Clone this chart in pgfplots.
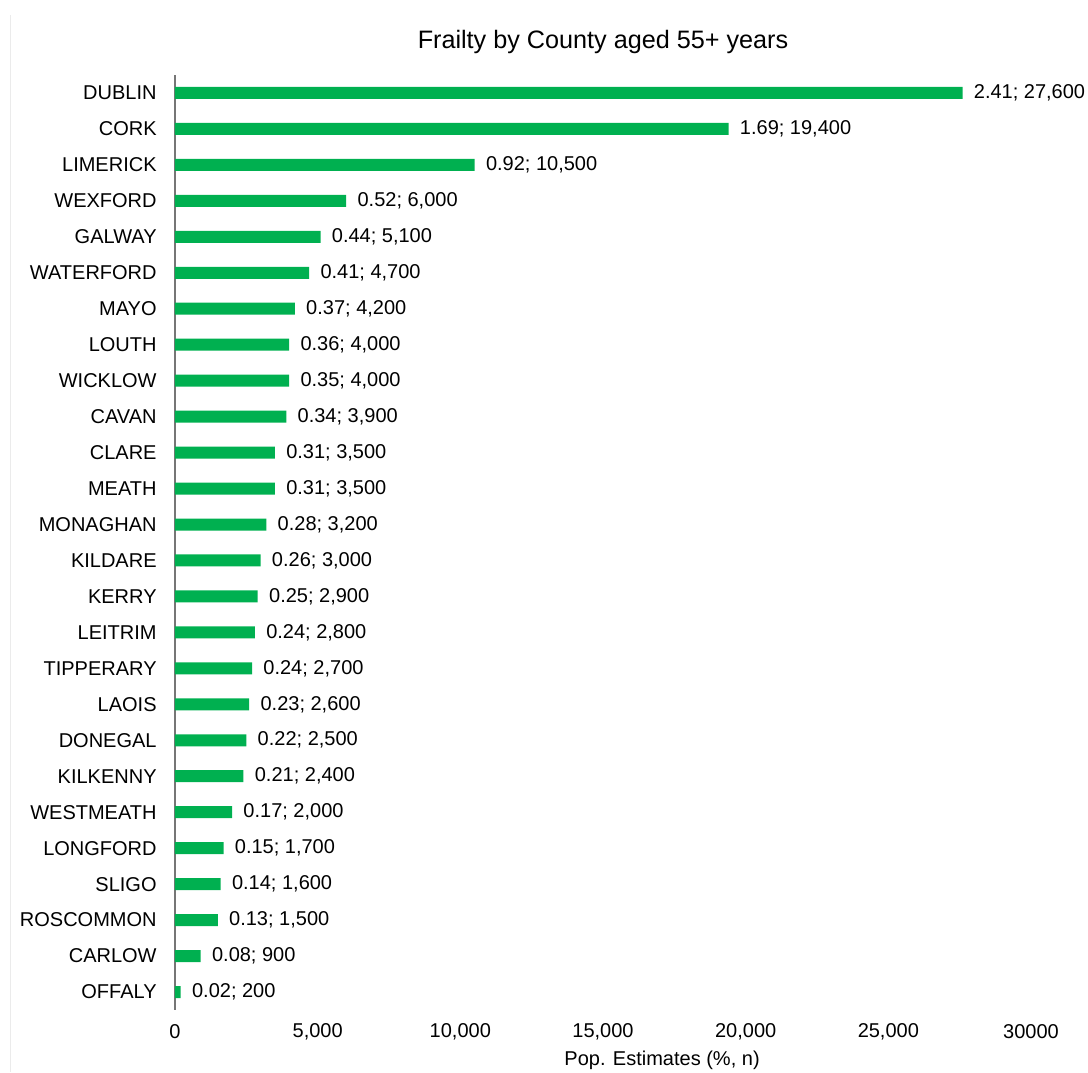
\documentclass[border=0pt]{standalone}
\usepackage{pgfplots}
\pgfplotsset{compat=1.18}
\usepackage{pgfplotstable}
\usepackage{fontspec}
\setmainfont{Liberation Sans}
\definecolor{bargreen}{RGB}{0,176,80}
\definecolor{axisgray}{RGB}{118,118,118}
\pgfplotstableread{
idx n pct
25 27600 2.41
24 19400 1.69
23 10500 0.92
22 6000 0.52
21 5100 0.44
20 4700 0.41
19 4200 0.37
18 4000 0.36
17 4000 0.35
16 3900 0.34
15 3500 0.31
14 3500 0.31
13 3200 0.28
12 3000 0.26
11 2900 0.25
10 2800 0.24
9 2700 0.24
8 2600 0.23
7 2500 0.22
6 2400 0.21
5 2000 0.17
4 1700 0.15
3 1600 0.14
2 1500 0.13
1 900 0.08
0 200 0.02
}\frailty
\begin{document}
\begin{tikzpicture}
\path[use as bounding box] (0,0) rectangle (544pt,536pt);
\draw[black!8, line width=0.5pt] (5pt,0) -- (5pt,528.5pt);
\begin{axis}[
  at={(87.5pt,31pt)}, anchor=south west,
  scale only axis, width=428pt, height=467.5pt,
  xmin=0, xmax=30000, ymin=-0.5, ymax=25.5,
  xbar, bar width=6pt, bar shift=0pt,
  axis lines*=left, separate axis lines,
  x axis line style={draw=none},
  y axis line style={draw=axisgray, line width=0.8pt},
  major tick length=0pt, tick style={draw=none},
  scaled x ticks=false, scaled y ticks=false,
  xtick={0,5000,10000,15000,20000,25000,30000},
  xticklabels={0,{5,000},{10,000},{15,000},{20,000},{25,000},30000},
  xticklabel style={anchor=center, yshift=-11pt, inner sep=0pt},
  ytick={0,...,25},
  yticklabels={OFFALY,CARLOW,ROSCOMMON,SLIGO,LONGFORD,WESTMEATH,KILKENNY,DONEGAL,LAOIS,TIPPERARY,LEITRIM,KERRY,KILDARE,MONAGHAN,MEATH,CLARE,CAVAN,WICKLOW,LOUTH,MAYO,WATERFORD,GALWAY,WEXFORD,LIMERICK,CORK,DUBLIN},
  yticklabel style={anchor=east, inner sep=0pt, xshift=-9pt},
  tick label style={font=\fontsize{10}{12}\selectfont},
  /pgf/number format/assume math mode=true,
  title={Frailty by County aged 55+ years},
  title style={at={(0.5,1)}, anchor=center, yshift=10.5pt, font=\fontsize{12.6}{15}\selectfont},
  xlabel={Pop. Estimates (\%, n)},
  xlabel style={at={(rel axis cs:0.569,0)}, anchor=center, yshift=-25pt, font=\fontsize{10}{12}\selectfont},
  point meta=explicit symbolic,
  visualization depends on={\thisrow{n}\as\nval},
  nodes near coords={\pgfplotspointmeta; \pgfmathprintnumber[fixed,precision=0,1000 sep={,}]{\nval}},
  nodes near coords style={anchor=west, inner sep=0pt, xshift=5.5pt, font=\fontsize{10}{12}\selectfont, black},
  clip=false,
]
\addplot[fill=bargreen, draw=none] table[x=n, y=idx, meta=pct] {\frailty};
\end{axis}
\end{tikzpicture}
\end{document}
